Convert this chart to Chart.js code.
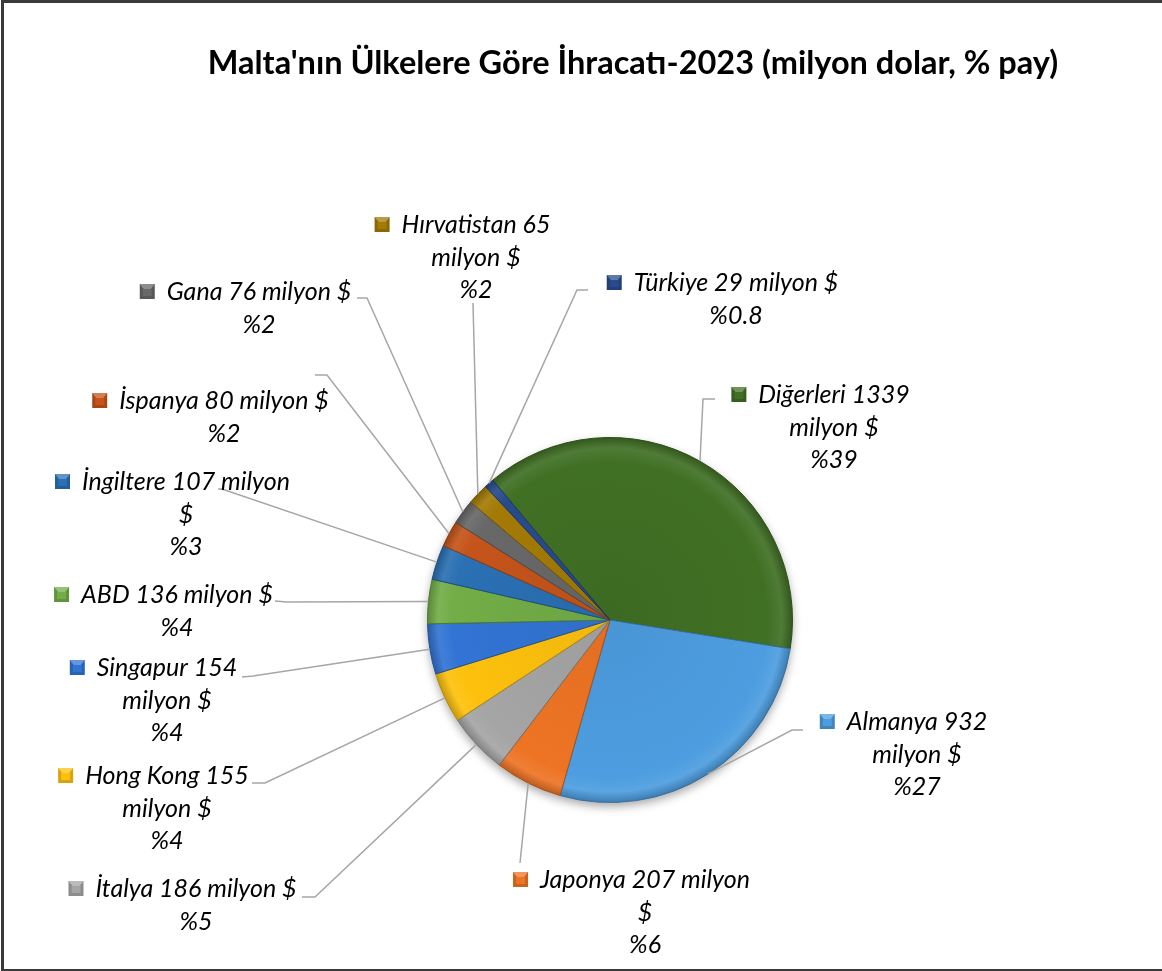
<!DOCTYPE html>
<html>
<head>
<meta charset="utf-8">
<script src="https://cdn.jsdelivr.net/npm/chart.js@4.4.1/dist/chart.umd.min.js"></script>
<style>
    html, body { margin: 0; padding: 0; background: #fff; overflow: hidden; }
    #wrap { position: relative; width: 1162px; height: 971px; }
    #frame { position: absolute; left: 1px; top: 0px; width: 1172px; height: 966px; border: 3px solid #3a3a3a; pointer-events: none; }
</style>
</head>
<body>
<div id="wrap">
    <canvas id="exportChart"></canvas>
    <div id="frame"></div>
</div>
<script>
const countries = ['Diğerleri', 'Almanya', 'Japonya', 'İtalya', 'Hong Kong', 'Singapur', 'ABD', 'İngiltere', 'İspanya', 'Gana', 'Hırvatistan', 'Türkiye'];
const exportValues = [1339, 932, 207, 186, 155, 154, 136, 107, 80, 76, 65, 29];
const shareLabels = ['39', '27', '6', '5', '4', '4', '4', '3', '2', '2', '2', '0.8'];
const sliceColors = ['#407024', '#4d9de0', '#ee7424', '#a5a5a5', '#fdc10d', '#3274d4', '#72ad47', '#2a70b3', '#c4541a', '#686868', '#a37a06', '#284b8c'];

const chartTitle = "Malta'nın Ülkelere Göre İhracatı-2023 (milyon dolar, % pay)";

// where each data label sits; brk = words on the first line
const labelLayout = [
    { cx: 834, y: 395, brk: 2, anchor: [715, 399], elbow: [703, 399] },
    { cx: 917, y: 722, brk: 2, anchor: [803, 730], elbow: [792, 730] },
    { cx: 645, y: 880, brk: 3, anchor: [520, 863], elbow: [520, 863] },
    { cx: 196, y: 889, brk: 9, anchor: [302, 897], elbow: [315, 897] },
    { cx: 167, y: 776, brk: 3, anchor: [252, 783], elbow: [265, 783] },
    { cx: 167, y: 668, brk: 2, anchor: [242, 677], elbow: [253, 676] },
    { cx: 177, y: 595, brk: 9, anchor: [275, 601], elbow: [287, 602] },
    { cx: 186, y: 482, brk: 3, anchor: [218, 489], elbow: [222, 489] },
    { cx: 224, y: 401, brk: 9, anchor: [315, 375], elbow: [327, 375] },
    { cx: 259, y: 292, brk: 9, anchor: [357, 298], elbow: [367, 298] },
    { cx: 476, y: 225, brk: 2, anchor: [473, 303], elbow: [473, 303] },
    { cx: 736, y: 283, brk: 9, anchor: [588, 290], elbow: [577, 290] }
];

const LABEL_FONT = 'italic 25px Lato';
const LINE_H = 32.5;

function shade(hex, amt) {
    let r = parseInt(hex.slice(1, 3), 16), g = parseInt(hex.slice(3, 5), 16), b = parseInt(hex.slice(5, 7), 16);
    const f = v => Math.max(0, Math.min(255, Math.round(amt >= 0 ? v + (255 - v) * amt : v * (1 + amt))));
    return `rgb(${f(r)},${f(g)},${f(b)})`;
}

function sliceFill(context) {
    const chart = context.chart;
    const area = chart.chartArea;
    const base = sliceColors[context.dataIndex];
    if (!area) return base;
    const cx = (area.left + area.right) / 2, cy = (area.top + area.bottom) / 2;
    const r = Math.min(area.right - area.left, area.bottom - area.top) / 2;
    const g = chart.ctx.createRadialGradient(cx, cy, 0, cx, cy, r);
    g.addColorStop(0, shade(base, -0.05));
    g.addColorStop(0.86, base);
    g.addColorStop(0.94, shade(base, 0.08));
    g.addColorStop(1, shade(base, -0.22));
    return g;
}

const decorPlugin = {
    id: 'decor',
    beforeDatasetsDraw(chart) {
        const ctx = chart.ctx;
        const arc = chart.getDatasetMeta(0).data[0];
        if (!arc) return;
        ctx.save();
        ctx.shadowColor = 'rgba(0,0,0,0.35)';
        ctx.shadowBlur = 10;
        ctx.shadowOffsetY = 4;
        ctx.beginPath();
        ctx.arc(arc.x, arc.y, arc.outerRadius, 0, Math.PI * 2);
        ctx.fillStyle = '#ffffff';
        ctx.fill();
        ctx.restore();
    },
    afterDatasetsDraw(chart) {
        const ctx = chart.ctx;
        const arcs = chart.getDatasetMeta(0).data;
        ctx.save();

        // title
        ctx.fillStyle = '#000';
        ctx.font = 'bold 32.5px Lato';
        ctx.textAlign = 'center';
        ctx.textBaseline = 'middle';
        ctx.fillText(chartTitle, 633, 64);

        arcs.forEach((arc, i) => {
            const lay = labelLayout[i];
            const p = arc.getProps(['x', 'y', 'startAngle', 'endAngle', 'outerRadius'], true);
            const mid = (p.startAngle + p.endAngle) / 2;
            const px = p.x + Math.cos(mid) * p.outerRadius;
            const py = p.y + Math.sin(mid) * p.outerRadius;

            // leader line
            ctx.strokeStyle = '#a6a6a6';
            ctx.lineWidth = 1.5;
            ctx.beginPath();
            ctx.moveTo(px, py);
            ctx.lineTo(lay.elbow[0], lay.elbow[1]);
            ctx.lineTo(lay.anchor[0], lay.anchor[1]);
            ctx.stroke();

            // text lines
            const words = `${countries[i]} ${exportValues[i]} milyon $`.split(' ');
            const lines = [words.slice(0, lay.brk).join(' ')];
            if (words.length > lay.brk) lines.push(words.slice(lay.brk).join(' '));
            lines.push('%' + shareLabels[i]);

            ctx.font = LABEL_FONT;
            ctx.fillStyle = '#000';
            ctx.textAlign = 'center';
            ctx.textBaseline = 'middle';
            lines.forEach((t, k) => ctx.fillText(t, lay.cx, lay.y + k * LINE_H));

            // legend key
            const w0 = ctx.measureText(lines[0]).width;
            const mx = lay.cx - w0 / 2 - 12 - 15;
            const my = lay.y - 8;
            const col = sliceColors[i];
            ctx.fillStyle = shade(col, -0.15);
            ctx.fillRect(mx, my, 15, 15);
            ctx.fillStyle = shade(col, 0.25);
            ctx.beginPath();
            ctx.moveTo(mx, my);
            ctx.lineTo(mx + 15, my);
            ctx.lineTo(mx + 11, my + 5);
            ctx.lineTo(mx + 4, my + 5);
            ctx.closePath();
            ctx.fill();
            ctx.fillStyle = col;
            ctx.fillRect(mx + 3, my + 5, 9, 7);
        });
        ctx.restore();
    }
};

document.addEventListener('DOMContentLoaded', function() {
    const ctx = document.getElementById('exportChart').getContext('2d');
    new Chart(ctx, {
        type: 'pie',
        data: {
            labels: countries,
            datasets: [{
                data: exportValues,
                backgroundColor: sliceFill,
                borderColor: sliceColors.map(c => shade(c, -0.3)),
                borderWidth: 1
            }]
        },
        options: {
            responsive: true,
            maintainAspectRatio: false,
            animation: false,
            rotation: -40,
            layout: {
                padding: { left: 427, right: 369, top: 437, bottom: 168 }
            },
            plugins: {
                legend: { display: false },
                tooltip: { enabled: false },
                title: { display: false }
            }
        },
        plugins: [decorPlugin]
    });
});
</script>
</body>
</html>
